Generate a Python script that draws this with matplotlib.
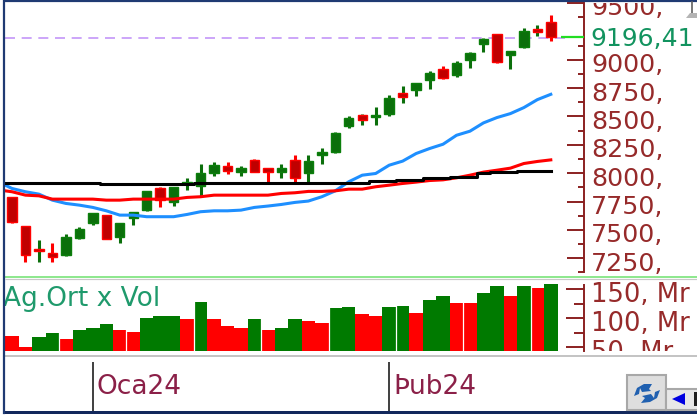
import matplotlib
matplotlib.use("Agg")
import matplotlib.pyplot as plt
from matplotlib.lines import Line2D
from matplotlib.patches import Rectangle, Polygon
from matplotlib.transforms import ScaledTranslation

W, H = 697, 416

# candles
opens = [7786,7533,7334,7293,7278,7425,7557,7630,7434,7601,7674,7865,7748,7903,7886,8003,8065,8012,8120,8047,
         8009,8114,7997,8158,8188,8414,8516,8496,8519,8707,8731,8824,8915,8863,9000,9141,9223,9039,9112,9267,9332]
highs = [7786,7533,7410,7381,7460,7522,7645,7630,7563,7657,7844,7880,7880,7959,8085,8100,8100,8065,8129,8047,
         8085,8164,8164,8223,8364,8502,8519,8584,8692,8769,8798,8898,8942,8986,9068,9191,9223,9080,9282,9303,9397]
lows = [7563,7214,7214,7214,7272,7416,7539,7419,7381,7539,7663,7698,7710,7850,7800,7977,7991,7977,8006,7924,
        7959,7924,7924,8085,8179,8402,8428,8428,8508,8619,8678,8742,8833,8851,8930,9068,8974,8915,9100,9212,9165]
closes = [7572,7278,7316,7264,7434,7504,7645,7419,7563,7657,7844,7762,7880,7924,8003,8070,8021,8047,8012,8006,
          8041,7953,8106,8188,8358,8490,8472,8516,8666,8672,8798,8886,8839,8974,9062,9185,8980,9080,9250,9244,9200]
green_wick_reds = [2, 26, 29, 39]

# moving averages, first point sits left of the first candle
ma_x = [-0.5] + list(range(41))
black_ma = [7915,7915,7915,7915,7915,7915,7915,7915,7903,7903,7903,7903,7903,7903,7903,7915,7915,7915,7915,7915,7915,
            7915,7915,7915,7915,7915,7915,7915,7930,7930,7944,7944,7953,7953,7968,7968,7997,8006,8009,8023,8023,8023]
red_ma = [7844,7836,7806,7800,7771,7771,7771,7771,7762,7762,7771,7771,7771,7771,7786,7792,7806,7806,7806,7806,7806,
          7821,7827,7839,7839,7844,7859,7859,7880,7894,7909,7921,7935,7941,7959,7982,8009,8026,8044,8085,8103,8117]
blue_ma = [7894,7865,7836,7815,7762,7733,7718,7698,7668,7630,7630,7616,7616,7616,7636,7660,7668,7668,7674,7698,7710,
           7724,7742,7754,7792,7844,7924,7982,7997,8070,8106,8173,8217,8255,8334,8370,8443,8490,8525,8578,8648,8695]
last_level = 9190
last_price = 9196.41

# volume
volumes = [70,50,67,74,64,80,83,91,80,77,101,104,104,98,128,98,86,83,98,80,83,
           98,95,92,117,120,107,104,120,122,110,132,138,126,126,144,156,138,156,153,159]
vol_sides = "rrggrgggrrgggrgrrrgrggrrggrrggrggrrggrgrg"

price_ticks = [7250,7500,7750,8000,8250,8500,8750,9000,9500]
price_labels = ["7250,","7500,","7750,","8000,","8250,","8500,","8750,","9000,","9500,"]
vol_ticks = [50,100,150]
vol_labels = ["50, Mr","100, Mr","150, Mr"]
month_pos = [6, 28]
month_labels = ["Oca24", "Þub24"]

RED = "#ff0000"
DKRED = "#c00000"
GREEN = "#0b6f0b"
AXIS = "#8b2020"
TXT = "#962a2a"


def rect(l, t, r, b):
    return [l/W, 1-b/H, (r-l)/W, (b-t)/H]


def fx(x):
    return x/W


def fy(y):
    return 1-y/H


def to_x(px):
    return (px-12)/13.47


def hline(x0, x1, y, color, lw):
    fig.add_artist(Line2D([fx(x0), fx(x1)], [fy(y), fy(y)], color=color, lw=lw*0.72, solid_capstyle="butt"))


def poly(pts, color, z=6):
    fig.add_artist(Polygon([(fx(x), fy(y)) for x, y in pts], transform=fig.transFigure, fc=color, ec="none", zorder=z))


def box(l, t, r, b, fc, ec, z=5):
    fig.add_artist(Rectangle((fx(l), fy(b)), (r-l)/W, (b-t)/H, transform=fig.transFigure, fc=fc, ec=ec, lw=1.5, zorder=z))


def setup(ax):
    ax.set_xlim(to_x(5), to_x(W))
    for s in ["top", "left", "bottom"]:
        ax.spines[s].set_visible(False)
    ax.spines["right"].set_position(("data", to_x(584)))
    ax.spines["right"].set_color(AXIS)
    ax.spines["right"].set_linewidth(1.4)
    ax.yaxis.tick_right()
    ax.set_xticks([])


fig = plt.figure(figsize=(W/100, H/100), dpi=100)
plt.rcParams["font.family"] = "DejaVu Sans"

# price panel
ax = fig.add_axes(rect(5, 3, W, 276))
setup(ax)
ax.set_ylim(8000+(173-276)*8.803, 8000+(173-3)*8.803)
ax.hlines(last_level, to_x(5), to_x(566), color="#c496f8", lw=1.2, linestyles=(0, (6, 4)), zorder=1)
for i in range(41):
    up = closes[i] >= opens[i]
    wick = GREEN if up or i in green_wick_reds else RED
    ax.vlines(i, lows[i], highs[i], color=wick, lw=2.2, zorder=2)
    ax.bar(i, abs(closes[i]-opens[i]), bottom=min(opens[i], closes[i]), width=0.7,
           color=GREEN if up else DKRED, edgecolor="#0b7f0b" if up else RED, lw=1.0, zorder=3)
ax.plot(ma_x, blue_ma, color="#1e8fff", lw=2.2, zorder=4)
ax.plot(ma_x, red_ma, color=RED, lw=2.2, zorder=5)
ax.plot(ma_x, black_ma, color="black", lw=2.2, drawstyle="steps-mid", zorder=6)
ax.spines["right"].set_bounds(7125, 9500)
ax.set_yticks(price_ticks)
ax.set_yticklabels(price_labels)
ax.set_yticks([t+125 for t in range(7000, 9500, 250)], minor=True)
ax.tick_params(axis="y", which="major", direction="in", length=12, width=1.4, color=AXIS,
               labelcolor=TXT, labelsize=18.3, pad=5)
ax.tick_params(axis="y", which="minor", direction="in", length=4, width=1.4, color=AXIS)
off = ScaledTranslation(0, -3/100, fig.dpi_scale_trans)
for lab in ax.get_yticklabels():
    lab.set_transform(lab.get_transform()+off)
    lab.set_clip_box(ax.bbox)
    lab.set_clip_on(True)
ax.hlines(last_price, to_x(561), to_x(584), color="#22dd22", lw=1.6, zorder=7)
ax.text(to_x(590), last_price, ("%.2f" % last_price).replace(".", ","), color="#12935f", fontsize=18,
        va="center", clip_on=True, transform=ax.transData+ScaledTranslation(0, -2/100, fig.dpi_scale_trans))

# volume panel
ax2 = fig.add_axes(rect(5, 279, W, 351))
setup(ax2)
ax2.set_ylim(43.7, 167.8)
ax2.bar(range(41), volumes, width=1.0, color=["#007a00" if s == "g" else RED for s in vol_sides], lw=0)
ax2.vlines([i+0.5 for i in range(3, 39, 5)], 43.7, 167, color="white", lw=0.9)
ax2.spines["right"].set_bounds(43.7, 158)
ax2.set_yticks(vol_ticks)
ax2.set_yticklabels(vol_labels)
ax2.set_yticks([75, 125], minor=True)
ax2.tick_params(axis="y", which="major", direction="in", length=13, width=1.4, color=AXIS,
                labelcolor=TXT, labelsize=18.6, pad=5)
ax2.tick_params(axis="y", which="minor", direction="in", length=7, width=1.4, color=AXIS)
for lab in ax2.get_yticklabels():
    lab.set_transform(lab.get_transform()+off)
    lab.set_clip_box(ax2.bbox)
    lab.set_clip_on(True)
ax2.text(0, 0.72, "Ag.Ort x Vol", color="#1f9a6c", fontsize=19, va="center", ha="left",
         transform=ax2.transAxes+ScaledTranslation(-2/100, 0, fig.dpi_scale_trans), clip_on=False)

# date strip
ax3 = fig.add_axes(rect(5, 357, W, 411))
ax3.set_xlim(to_x(5), to_x(W))
ax3.set_ylim(0, 1)
ax3.axis("off")
ax3.vlines(month_pos, 0, 0.91, color="#303030", lw=1.3)
for p, t in zip(month_pos, month_labels):
    ax3.text(p+0.3, 0.45, t, color="#8b2048", fontsize=19, va="center", ha="left")

# window chrome
hline(3, W, 1.2, "#1f3a73", 2.2)
hline(5, W, 277, "#8fe88f", 2)
hline(5, W, 279, "#c8c8c8", 1.2)
hline(5, W, 355.5, "#c4c4c4", 2)
hline(3, W, 411.5, "#12285c", 3)
fig.add_artist(Line2D([fx(4.2), fx(4.2)], [fy(0), fy(413)], color="#1f3a73", lw=1.6))

# buttons
box(626.5, 375, 666, 410, "#dedede", "#a8a8a8")
box(666, 389, 699, 410, "#e8e8e8", "#a8a8a8")
poly([(672, 399), (685, 393), (685, 405)], "#0000e0")
poly([(694, 392), (697, 392), (697, 406), (694, 406)], "#202020")
poly([(634, 396), (637, 388), (644, 384), (652, 384), (649, 389), (651, 391), (642, 392), (640, 388), (639, 394)], "#2060b0")
poly([(660, 390), (657, 398), (650, 402), (641, 403), (645, 398), (642, 396), (651, 394), (654, 398), (655, 392)], "#2060b0")
poly([(686, 18), (690, 13), (697, 13), (697, 18)], "#b4b4b4")
fig.add_artist(Line2D([fx(692), fx(692)], [fy(2), fy(13)], color="#606060", lw=1.2))

fig.savefig("out.png", dpi=100)
